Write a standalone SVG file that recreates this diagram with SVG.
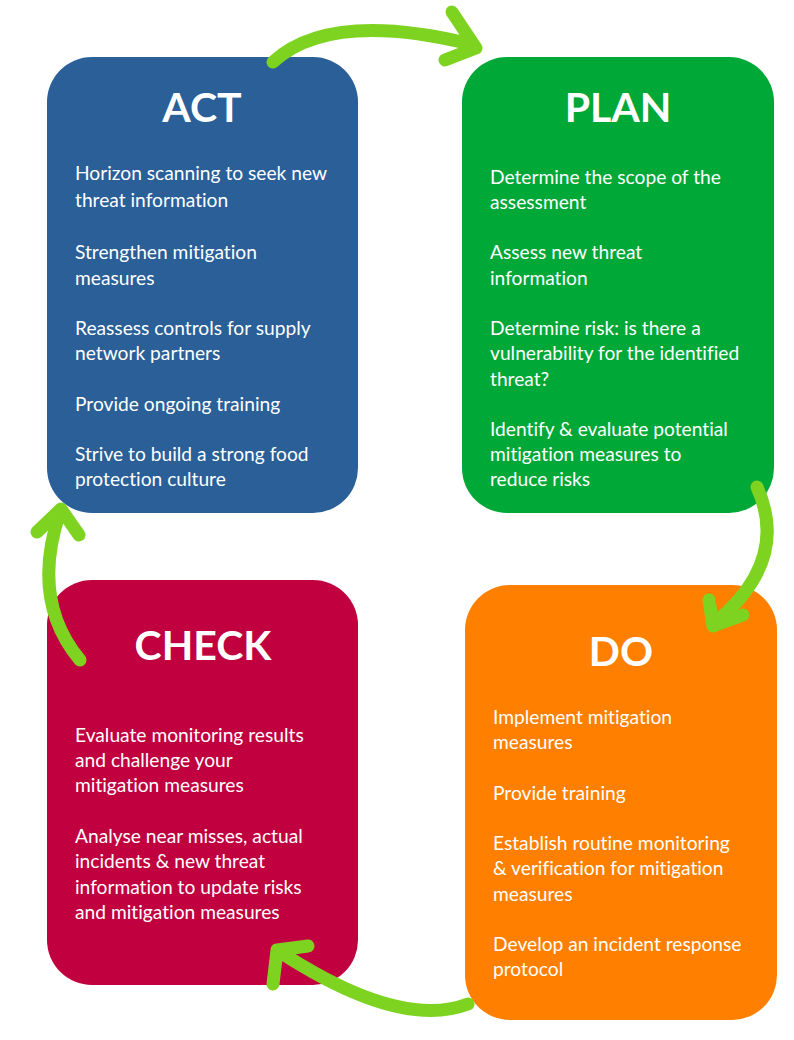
<svg xmlns="http://www.w3.org/2000/svg" width="794" height="1040" viewBox="0 0 794 1040">
<style>
.t{font-family:Lato,"Open Sans",sans-serif;font-weight:bold;font-size:41px;fill:#fff;text-anchor:middle}
.b{font-family:Lato,"Open Sans",sans-serif;font-size:19.2px;fill:#fff;font-variant-ligatures:none}
.a{fill:none;stroke:#7ed321;stroke-width:13;stroke-linecap:round;stroke-linejoin:round}
</style>
<rect width="794" height="1040" fill="#fff"/>
<g id="act"><rect x="47" y="57" width="311" height="456" rx="45" fill="#2a5f98"/>
<text class="t" x="202" y="122">ACT</text>
<text class="b"><tspan x="75" y="180">Horizon scanning to seek new</tspan><tspan x="75" y="207">threat information</tspan><tspan x="75" y="259">Strengthen mitigation</tspan><tspan x="75" y="285">measures</tspan><tspan x="75" y="335">Reassess controls for supply</tspan><tspan x="75" y="360">network partners</tspan><tspan x="75" y="411">Provide ongoing training</tspan><tspan x="75" y="461">Strive to build a strong food</tspan><tspan x="75" y="486">protection culture</tspan></text></g>
<g id="plan"><rect x="462" y="57" width="312" height="456" rx="45" fill="#00a838"/>
<text class="t" x="618" y="122">PLAN</text>
<text class="b"><tspan x="490" y="184">Determine the scope of the</tspan><tspan x="490" y="209">assessment</tspan><tspan x="490" y="259">Assess new threat</tspan><tspan x="490" y="285">information</tspan><tspan x="490" y="335">Determine risk: is there a</tspan><tspan x="490" y="360">vulnerability for the identified</tspan><tspan x="490" y="386">threat?</tspan><tspan x="490" y="436">Identify &amp; evaluate potential</tspan><tspan x="490" y="461">mitigation measures to</tspan><tspan x="490" y="486">reduce risks</tspan></text></g>
<g id="check"><rect x="47" y="580" width="311" height="405" rx="45" fill="#c0003f"/>
<text class="t" x="203" y="660">CHECK</text>
<text class="b"><tspan x="75" y="742">Evaluate monitoring results</tspan><tspan x="75" y="767">and challenge your</tspan><tspan x="75" y="792">mitigation measures</tspan><tspan x="75" y="843">Analyse near misses, actual</tspan><tspan x="75" y="868">incidents &amp; new threat</tspan><tspan x="75" y="894">information to update risks</tspan><tspan x="75" y="919">and mitigation measures</tspan></text></g>
<g id="do"><rect x="465" y="585" width="312" height="435" rx="45" fill="#ff8000"/>
<text class="t" x="621" y="666">DO</text>
<text class="b"><tspan x="493" y="724">Implement mitigation</tspan><tspan x="493" y="749">measures</tspan><tspan x="493" y="800">Provide training</tspan><tspan x="493" y="850">Establish routine monitoring</tspan><tspan x="493" y="875">&amp; verification for mitigation</tspan><tspan x="493" y="901">measures</tspan><tspan x="493" y="951">Develop an incident response</tspan><tspan x="493" y="976">protocol</tspan></text></g>
<g id="connectors">
<path class="a" d="M273,62 Q330,10 470,44"/><path class="a" d="M452,12 L476,48 L445,60"/>
<path class="a" d="M757,487 Q790,560 716,622"/><path class="a" d="M709,600 L713,626 L743,615"/>
<path class="a" d="M468,1004 Q400,1030 280,952"/><path class="a" d="M273,984 L277,950 L308,946"/>
<path class="a" d="M80,660 Q30,600 60,512"/><path class="a" d="M37,532 L61,509 L79,535"/>
</g>
</svg>
